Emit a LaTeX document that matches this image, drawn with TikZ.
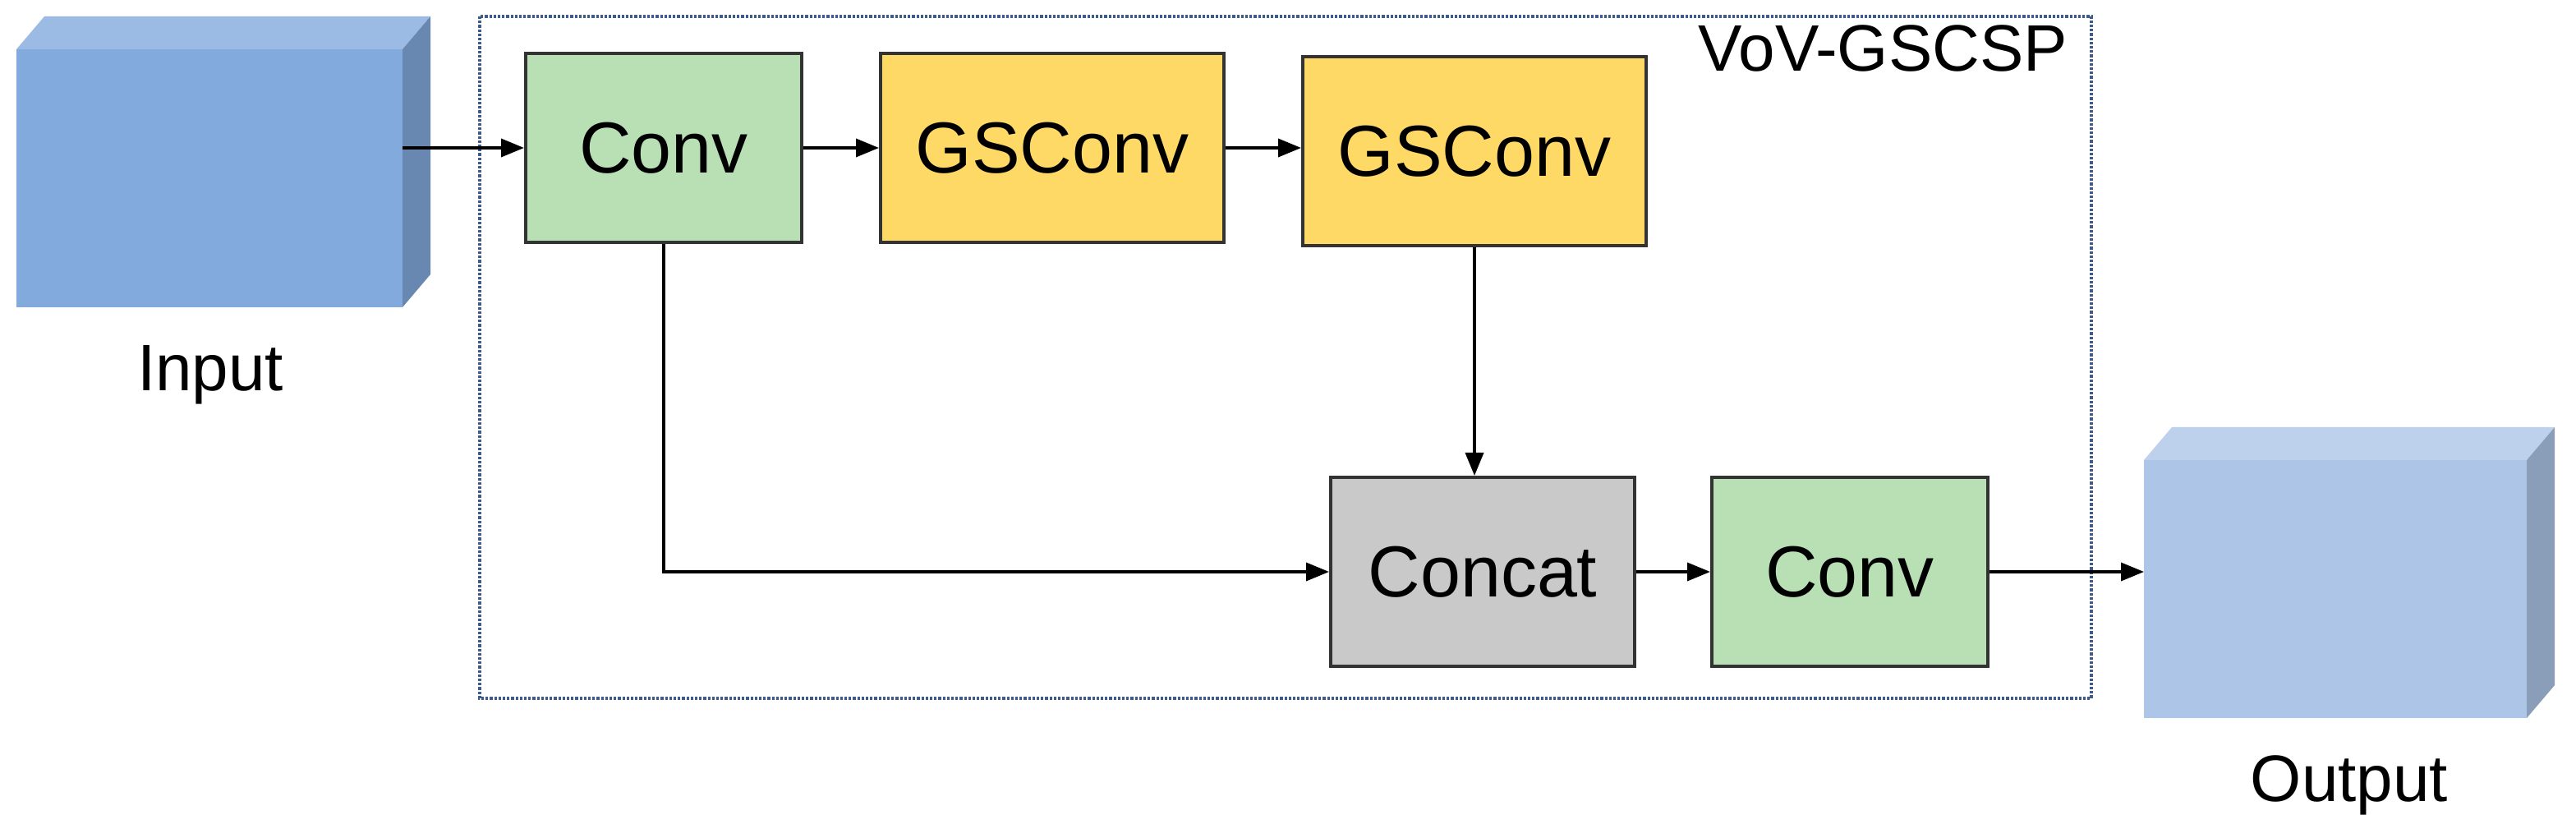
\documentclass[tikz,border=0pt]{standalone}
\usepackage{fontspec}
\setmainfont{Liberation Sans}
\usetikzlibrary{arrows.meta, positioning}
\definecolor{convgreen}{HTML}{B9E0B5}
\definecolor{gsyellow}{HTML}{FFD966}
\definecolor{catgray}{HTML}{C9C9C9}
\definecolor{boxblue}{HTML}{3E5C8A}
\definecolor{inblue}{HTML}{82AADD}
\definecolor{outblue}{HTML}{ADC6E8}

% cube: x, y, width, height, name, colour
\newcommand{\featcube}[6]{%
  \fill[#6!80!white] (#1,#2) -- ++(17,-20) -- ++(#3,0) -- ++(-17,20) -- cycle;
  \fill[#6!80!black] (#1+#3,#2) -- ++(17,-20) -- ++(0,#4) -- ++(-17,20) -- cycle;
  \fill[#6] (#1,#2) rectangle ++(#3,#4);
  \coordinate (#5) at (#1,#2+#4/2);}

\begin{document}
\begin{tikzpicture}[x=1pt, y=-1pt,
    >={Triangle[length=14pt,width=11pt]},
    block/.style={draw=black!80, line width=2pt, minimum height=115pt,
        font=\fontsize{44}{48}\selectfont, inner sep=0pt},
    conv/.style={block, fill=convgreen, minimum width=168pt},
    gsconv/.style={block, fill=gsyellow, minimum width=209pt},
    label/.style={font=\fontsize{40}{44}\selectfont},
    flow/.style={->, line width=1.8pt}]

    \useasboundingbox (0,0) rectangle (1568,510);

    \featcube{10}{30}{235}{157}{in}{inblue}
    \featcube{1305}{280}{233}{157}{out}{outblue}
    \coordinate (in_e) at (245,90);
    \coordinate (out_w) at (1305,355);

    \node[label] (in_lbl)  at (128,228)  {Input};
    \node[label] (out_lbl) at (1430,478) {Output};

    % dotted frame
    \draw[boxblue, line width=1.6pt, densely dotted] (292,10) rectangle (1273,425);
    \node[label, anchor=north east] (title) at (1262,12) {VoV-GSCSP};

    \node[conv]   (conv1) at (404,90)   {Conv};
    \node[gsconv] (gs1)   at (640.5,90) {GSConv};
    \node[gsconv] (gs2)   at (897.5,92) {GSConv};
    \node[block, fill=catgray, minimum width=185pt] (cat) at (902.5,348) {Concat};
    \node[conv]   (conv2) at (1126,348) {Conv};

    \draw[flow] (in_e) -- (conv1.west |- in_e);
    \draw[flow] (conv1) -- (gs1.west |- conv1);
    \draw[flow] (gs1) -- (gs2.west |- gs1);
    \draw[flow] (gs2) -- (gs2 |- cat.north);
    \draw[flow] (conv1.south) |- (cat.west);
    \draw[flow] (cat) -- (conv2);
    \draw[flow] (conv2.east) -- (out_w |- conv2);
\end{tikzpicture}
\end{document}
